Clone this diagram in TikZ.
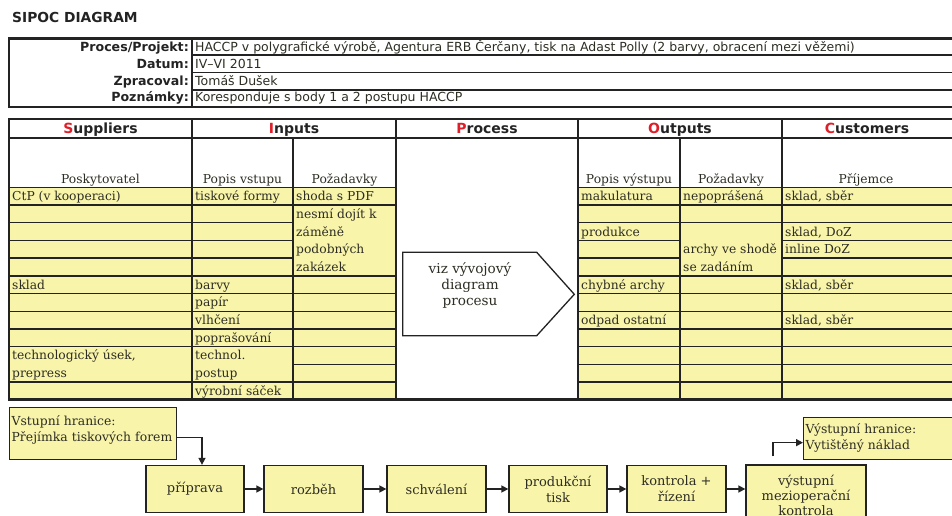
\documentclass[tikz,border=0pt]{standalone}
\usepackage{fontspec}
\setmainfont{DejaVu Serif}
\setsansfont{DejaVu Sans}
\usetikzlibrary{arrows.meta}
\definecolor{ylw}{RGB}{248,244,170}
\definecolor{grd}{RGB}{35,35,35}
\definecolor{txt}{RGB}{45,45,35}
\definecolor{sred}{RGB}{222,30,40}
\begin{document}
\begin{tikzpicture}[x=1pt,y=-1pt,
  grid/.style={draw=grd,line width=1.4pt},
  vline/.style={draw=grd,line width=2pt},
  outer/.style={draw=grd,line width=2.6pt},
  cellt/.style={anchor=base west,inner sep=0pt,font=\fontsize{12.3}{14}\selectfont,text=txt},
  subh/.style={anchor=base,inner sep=0pt,font=\fontsize{12.3}{14}\selectfont,text=txt},
  hdr/.style={anchor=base,inner sep=0pt,font=\sffamily\bfseries\fontsize{14}{16}\selectfont,text=grd},
  lbl/.style={anchor=base east,inner sep=0pt,font=\sffamily\bfseries\fontsize{12.6}{14}\selectfont,text=grd},
  val/.style={anchor=base west,inner sep=0pt,font=\sffamily\fontsize{12.5}{14}\selectfont,text=txt},
  flow/.style={draw=grd,line width=1.3pt,fill=ylw,inner sep=0pt,font=\fontsize{13}{16}\selectfont,text=txt,align=center},
  bnd/.style={draw=grd,line width=1.3pt,fill=ylw,inner sep=2pt,font=\fontsize{12.4}{16.5}\selectfont,text=txt,align=left,anchor=north west},
  arr/.style={draw=grd,line width=1.5pt,-{Triangle[length=7pt,width=7pt]}}
]
\useasboundingbox (0,0) rectangle (952,516);
\clip (0,0) rectangle (952,516);

% title
\node[anchor=base west,inner sep=0pt,font=\sffamily\bfseries\fontsize{13.8}{16}\selectfont,text=grd] (title) at (12,23) {SIPOC DIAGRAM};

% info table
\draw[grid] (192,55) -- (962,55) (192,72.7) -- (962,72.7) (192,90) -- (962,90);
\draw[vline] (192,38.5) -- (192,107);
\draw[outer] (9,38.5) rectangle (962,107);
\node[lbl] (l1) at (189,51.8) {Proces/Projekt:};
\node[lbl] (l2) at (189,68.5) {Datum:};
\node[lbl] (l3) at (189,85.3) {Zpracoval:};
\node[lbl] (l4) at (189,102) {Poznámky:};
\node[val] (v1) at (195,51.8) {HACCP v polygrafické výrobě, Agentura ERB Čerčany, tisk na Adast Polly (2 barvy, obracení mezi věžemi)};
\node[val] (v2) at (195,68.5) {IV–VI 2011};
\node[val] (v3) at (195,85.3) {Tomáš Dušek};
\node[val] (v4) at (195,102) {Koresponduje s body 1 a 2 postupu HACCP};

% SIPOC table fills
\fill[ylw] (9,187.3) rectangle (396,399.7);
\fill[ylw] (578,187.3) rectangle (962,399.7);

% horizontal row lines
\foreach \i in {1,...,9,11} \draw[grid] (9,{187.3+17.7*\i}) -- (293,{187.3+17.7*\i});
\foreach \i in {1,5,6,7,8,9,10,11} \draw[grid] (293,{187.3+17.7*\i}) -- (396,{187.3+17.7*\i});
\foreach \i in {1,...,11} \draw[grid] (578,{187.3+17.7*\i}) -- (680,{187.3+17.7*\i});
\foreach \i in {1,2,5,6,7,8,9,10,11} \draw[grid] (680,{187.3+17.7*\i}) -- (782,{187.3+17.7*\i});
\foreach \i in {1,...,11} \draw[grid] (782,{187.3+17.7*\i}) -- (962,{187.3+17.7*\i});
\draw[grid] (9,187.3) -- (396,187.3) (578,187.3) -- (962,187.3);
\draw[vline] (9,137.5) -- (962,137.5);
% vertical lines
\draw[vline] (192,119) -- (192,399.7) (396,119) -- (396,399.7) (578,119) -- (578,399.7) (782,119) -- (782,399.7);
\draw[vline] (293,137.5) -- (293,399.7) (680,137.5) -- (680,399.7);
\draw[outer] (9,119) rectangle (962,399.7);

% headers
\node[hdr] (hS) at (100.5,133.5) {\textcolor{sred}{S}uppliers};
\node[hdr] (hI) at (294,133.5) {\textcolor{sred}{I}nputs};
\node[hdr] (hP) at (487,133.5) {\textcolor{sred}{P}rocess};
\node[hdr] (hO) at (680,133.5) {\textcolor{sred}{O}utputs};
\node[hdr] (hC) at (867,133.5) {\textcolor{sred}{C}ustomers};
\node[subh] (s1) at (100.5,183.3) {Poskytovatel};
\node[subh] (s2) at (242.5,183.3) {Popis vstupu};
\node[subh] (s3) at (344.5,183.3) {Požadavky};
\node[subh] (s4) at (629,183.3) {Popis výstupu};
\node[subh] (s5) at (731,183.3) {Požadavky};
\node[subh] (s6) at (866,183.3) {Příjemce};

% cell texts (baseline of row k = 200.7 + 17.7(k-1))
\node[cellt] (a1) at (12,200.7) {CtP (v kooperaci)};
\node[cellt] (a6) at (12,289.2) {sklad};
\node[cellt] (a10) at (12,359.9) {technologický úsek,};
\node[cellt] (a11) at (12,377.6) {prepress};
\node[cellt] (b1) at (195,200.7) {tiskové formy};
\node[cellt] (b6) at (195,289.2) {barvy};
\node[cellt] (b7) at (195,306.9) {papír};
\node[cellt] (b8) at (195,324.6) {vlhčení};
\node[cellt] (b9) at (195,342.3) {poprašování};
\node[cellt] (b10) at (195,359.9) {technol.};
\node[cellt] (b11) at (195,377.6) {postup};
\node[cellt] (b12) at (195,395.3) {výrobní sáček};
\node[cellt] (c1) at (296,200.7) {shoda s PDF};
\node[cellt] (c2) at (296,218.4) {nesmí dojít k};
\node[cellt] (c3) at (296,236.1) {záměně};
\node[cellt] (c4) at (296,253.8) {podobných};
\node[cellt] (c5) at (296,271.5) {zakázek};
\node[cellt] (d1) at (581,200.7) {makulatura};
\node[cellt] (d3) at (581,236.1) {produkce};
\node[cellt] (d6) at (581,289.2) {chybné archy};
\node[cellt] (d8) at (581,324.6) {odpad ostatní};
\node[cellt] (e1) at (683,200.7) {nepoprášená};
\node[cellt] (e4) at (683,253.8) {archy ve shodě};
\node[cellt] (e5) at (683,271.5) {se zadáním};
\node[cellt] (f1) at (785,200.7) {sklad, sběr};
\node[cellt] (f3) at (785,236.1) {sklad, DoZ};
\node[cellt] (f4) at (785,253.8) {inline DoZ};
\node[cellt] (f6) at (785,289.2) {sklad, sběr};
\node[cellt] (f8) at (785,324.6) {sklad, sběr};

% process arrow shape
\draw[draw=grd,line width=1.3pt,fill=white] (402.7,252.3) -- (536.7,252.3) -- (574.3,294.3) -- (536.7,335.7) -- (402.7,335.7) -- cycle;
\node[inner sep=0pt,align=center,font=\fontsize{13.6}{16}\selectfont,text=txt] (proc) at (470,285) {viz vývojový\\diagram\\procesu};

% flow
\node[bnd,text width=163pt,minimum height=52pt] (vst) at (9,407) {Vstupní hranice:\\Přejímka tiskových forem\\[-6pt]\mbox{}};
\node[flow,minimum width=98pt,minimum height=47pt] (prip) at (195,489) {příprava};
\node[flow,minimum width=99pt,minimum height=47pt] (rozb) at (313.5,489) {rozběh};
\node[flow,minimum width=99pt,minimum height=47pt] (schv) at (436.5,489) {schválení};
\node[flow,minimum width=98pt,minimum height=47pt] (prod) at (558,489) {produkční\\tisk};
\node[flow,minimum width=99pt,minimum height=47pt] (kont) at (676.5,489) {kontrola +\\řízení};
\node[flow,minimum width=120pt,minimum height=60pt,font=\fontsize{13}{15}\selectfont] (vm) at (806,495) {výstupní\\mezioperační\\kontrola};
\node[bnd,text width=156pt,minimum height=42pt] (vh) at (803,417) {Výstupní hranice:\\Vytištěný náklad\\[-12.5pt]\mbox{}};

\draw[arr] ([yshift=-4pt]vst.east) -| ([xshift=7pt]prip.north);
\draw[arr] (prip) -- (rozb);
\draw[arr] (rozb) -- (schv);
\draw[arr] (schv) -- (prod);
\draw[arr] (prod) -- (kont);
\draw[arr] (kont) -- (vm.west |- kont.east);
\draw[arr] ([xshift=-33pt,yshift=8pt]vm.north) |- ([yshift=-4pt]vh.west);
\end{tikzpicture}
\end{document}
